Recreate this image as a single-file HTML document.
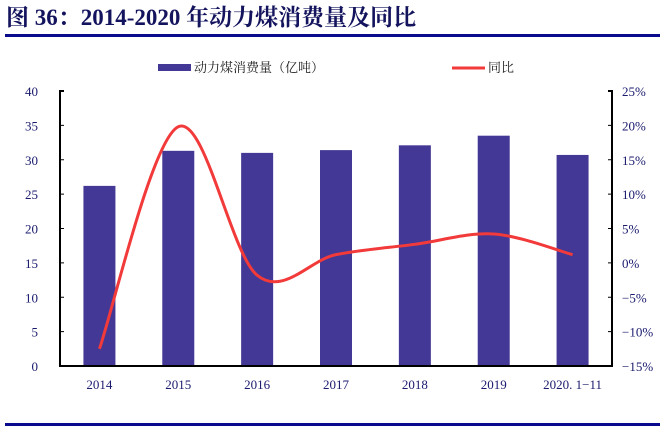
<!DOCTYPE html>
<html><head><meta charset="utf-8"><style>
body{margin:0;background:#fff;width:664px;height:430px;overflow:hidden}
svg text{font-family:"Liberation Serif","Noto Serif CJK SC",serif}
</style></head><body>
<svg width="664" height="430">
<text x="6" y="25" font-size="23" font-weight="bold" fill="#14145e">图 36：2014-2020 年动力煤消费量及同比</text>
<rect x="5" y="34" width="655" height="3" fill="#0a0a8c"/>
<rect x="5" y="423" width="655" height="3" fill="#0a0a8c"/>
<rect x="158" y="64" width="33" height="7" fill="#433895"/>
<text x="194" y="72" font-size="13" fill="#222">动力煤消费量（亿吨）</text>
<line x1="452" y1="68" x2="485" y2="68" stroke="#f23a3a" stroke-width="3"/>
<text x="488" y="72" font-size="13" fill="#222">同比</text>
<g id="g"></g>
</svg>
<script>
const categories=["2014","2015","2016","2017","2018","2019","2020. 1-11"];
const consumption=[26.2,31.3,31.0,31.4,32.1,33.5,30.7];
const yoy=[-12.5,19.8,-1.8,1.2,2.7,4.2,1.2];
const leftTicks=[0,5,10,15,20,25,30,35,40];
const rightTicks=[-15,-10,-5,0,5,10,15,20,25];
const L=60,R=612,T=91,B=366;
const yL=v=>B-(v-0)/40*(B-T);
const yR=v=>B-(v+15)/40*(B-T);
const band=(R-L)/categories.length;
const xC=i=>L+band*(i+0.5);
const g=document.getElementById('g');const NS="http://www.w3.org/2000/svg";
function mk(t,a){const e=document.createElementNS(NS,t);for(const k in a)e.setAttribute(k,a[k]);g.appendChild(e);return e;}
consumption.forEach((v,i)=>{const e=mk('rect',{x:xC(i)-16,y:yL(v),width:32,height:B-yL(v),fill:'#433895'});

});
let ax=mk('path',{d:`M${L+4},${T} H${L} V${B} H${R} V${T} H${R-4}`,fill:'none',stroke:'#000','stroke-width':2});


leftTicks.forEach(v=>{const y=yL(v);mk('line',{x1:L,x2:L+4,y1:y,y2:y,stroke:'#000'});
const t=mk('text',{x:L-22,y:y+5,'font-size':13,fill:'#1a1a6e','text-anchor':'end'});t.textContent=v;

});
rightTicks.forEach(v=>{const y=yR(v);mk('line',{x1:R-4,x2:R,y1:y,y2:y,stroke:'#000'});
const t=mk('text',{x:R+10,y:y+5,'font-size':13,fill:'#1a1a6e'});t.textContent=(v<0?'−'+(-v):v)+'%';

});
categories.forEach((c,i)=>{const t=mk('text',{x:xC(i),y:389,'font-size':13,fill:'#1a1a6e','text-anchor':'middle'});t.textContent=c.replace('-','−');

});
const pts=yoy.map((v,i)=>[xC(i),yR(v)]);
let d=`M${pts[0][0]},${pts[0][1]}`;
for(let i=0;i<pts.length-1;i++){const p0=pts[Math.max(0,i-1)],p1=pts[i],p2=pts[i+1],p3=pts[Math.min(pts.length-1,i+2)];
d+=` C${p1[0]+(p2[0]-p0[0])/6},${p1[1]+(p2[1]-p0[1])/6} ${p2[0]-(p3[0]-p1[0])/6},${p2[1]-(p3[1]-p1[1])/6} ${p2[0]},${p2[1]}`;}
const ln=mk('path',{d:d,fill:'none',stroke:'#f23a3a','stroke-width':3});


</script>
</body></html>
